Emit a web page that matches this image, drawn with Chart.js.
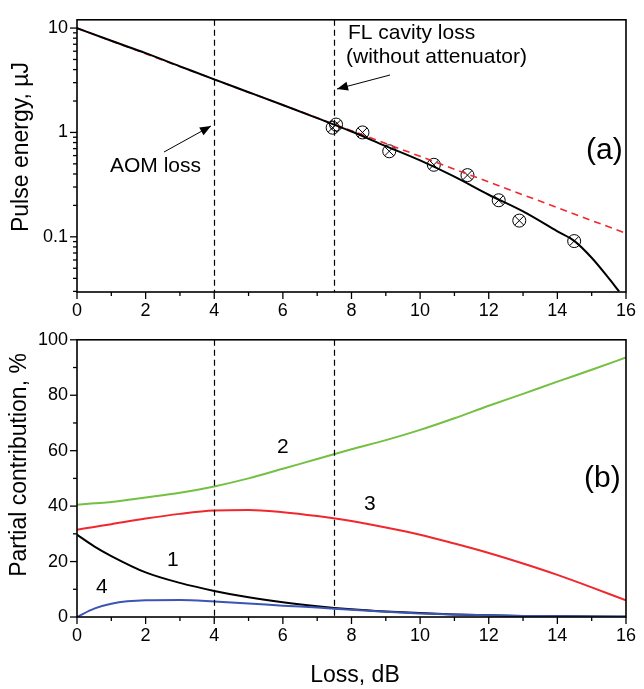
<!DOCTYPE html>
<html>
<head>
<meta charset="utf-8">
<script src="https://cdn.jsdelivr.net/npm/chart.js@4.4.1/dist/chart.umd.min.js"></script>
<style>
  body { margin: 0; background: #fff; }
  #wrap { position: relative; width: 644px; height: 689px; }
  canvas { position: absolute; left: 0; }
</style>
</head>
<body>
<div id="wrap">
  <canvas id="topChart" width="644" height="320" style="top:0"></canvas>
  <canvas id="bottomChart" width="644" height="369" style="top:320px"></canvas>
</div>
<script>
// panel (a): pulse energy vs loss
const fitLoss = [0, 1, 2, 3, 4, 5, 6, 7, 8, 9, 10, 11, 12, 13, 14, 14.5, 15, 15.5, 15.8];
const fitEnergy = [10, 7.55, 5.75, 4.3, 3.22, 2.43, 1.83, 1.37, 1.02, 0.74, 0.54, 0.377, 0.253, 0.175, 0.113, 0.091, 0.063, 0.040, 0.03];
const lineLoss = [0, 4, 8, 12, 16];
const lineEnergy = [10, 3.22, 1.04, 0.335, 0.108];
const measLoss = [7.45, 7.55, 8.32, 9.1, 10.4, 11.38, 12.29, 12.89, 14.49];
const measEnergy = [1.11, 1.19, 1.0, 0.66, 0.49, 0.39, 0.224, 0.143, 0.091];

// panel (b): partial contributions, %
const partLoss = [0, 0.5, 1, 2, 3, 4, 5, 6, 7, 8, 9, 10, 11, 12, 13, 14, 15, 16];
const part1 = [29.7, 25.5, 22, 16.1, 12.3, 9.4, 7.1, 5.3, 3.9, 2.8, 2.0, 1.4, 0.9, 0.6, 0.4, 0.25, 0.15, 0.1];
const part2 = [40.5, 41, 41.5, 43.1, 44.8, 47.1, 50, 53.5, 57, 60.5, 63.8, 67.5, 71.7, 76.2, 80.5, 84.9, 89.2, 93.6];
const part3 = [31.5, 32.5, 33.5, 35.5, 37.2, 38.4, 38.6, 37.8, 36.4, 34.6, 32.3, 29.7, 26.5, 23.1, 19.3, 15.2, 10.7, 6];
const part4 = [0, 3, 4.8, 6, 6.1, 5.6, 4.9, 4.1, 3.4, 2.6, 1.9, 1.3, 0.9, 0.6, 0.4, 0.3, 0.2, 0.2];

// axis ticks
const xMajor = [0, 2, 4, 6, 8, 10, 12, 14, 16];
const xMinor = [1, 3, 5, 7, 9, 11, 13, 15];
const logMajor = [0.1, 1, 10];
const logMinor = [0.03, 0.04, 0.05, 0.06, 0.07, 0.08, 0.09, 0.2, 0.3, 0.4, 0.5, 0.6, 0.7, 0.8, 0.9, 2, 3, 4, 5, 6, 7, 8, 9];
const pctMajor = [0, 20, 40, 60, 80, 100];
const pctMinor = [10, 30, 50, 70, 90];
const markerLines = [4, 7.5];

const FONT = "'Liberation Sans', Arial, sans-serif";
const pts = (xs, ys) => xs.map((x, i) => ({ x: x, y: ys[i] }));

const deco = {
  id: "deco",
  afterDatasetsDraw(chart, args, o) {
    const ctx = chart.ctx;
    const a = chart.chartArea;
    const x = chart.scales.x, y = chart.scales.y;
    ctx.save();
    ctx.strokeStyle = "#000";
    ctx.fillStyle = "#000";

    // dashed verticals
    ctx.lineWidth = 1.2;
    ctx.setLineDash([6, 4]);
    markerLines.forEach((v) => {
      const px = Math.round(x.getPixelForValue(v)) + 0.5;
      ctx.beginPath();
      ctx.moveTo(px, a.top);
      ctx.lineTo(px, a.bottom);
      ctx.stroke();
    });
    ctx.setLineDash([]);

    // frame
    ctx.lineWidth = 1.6;
    ctx.strokeRect(a.left, a.top, a.right - a.left, a.bottom - a.top);

    // ticks, outward
    ctx.lineWidth = 1.3;
    const tx = (v, len) => {
      const px = x.getPixelForValue(v);
      ctx.beginPath(); ctx.moveTo(px, a.bottom); ctx.lineTo(px, a.bottom + len); ctx.stroke();
    };
    const ty = (v, len) => {
      const py = y.getPixelForValue(v);
      ctx.beginPath(); ctx.moveTo(a.left, py); ctx.lineTo(a.left - len, py); ctx.stroke();
    };
    xMajor.forEach((v) => tx(v, 7));
    xMinor.forEach((v) => tx(v, 4));
    o.yMajor.forEach((v) => ty(v, 7));
    o.yMinor.forEach((v) => ty(v, 4));

    // arrows
    (o.arrows || []).forEach((ar) => {
      const [x1, y1, x2, y2] = ar;
      ctx.lineWidth = 1;
      ctx.beginPath(); ctx.moveTo(x1, y1); ctx.lineTo(x2, y2); ctx.stroke();
      const ang = Math.atan2(y2 - y1, x2 - x1);
      const L = 11, W = 4.5;
      ctx.beginPath();
      ctx.moveTo(x2, y2);
      ctx.lineTo(x2 - L * Math.cos(ang) + W * Math.sin(ang), y2 - L * Math.sin(ang) - W * Math.cos(ang));
      ctx.lineTo(x2 - L * Math.cos(ang) - W * Math.sin(ang), y2 - L * Math.sin(ang) + W * Math.cos(ang));
      ctx.closePath();
      ctx.fill();
    });

    // texts
    ctx.textBaseline = "alphabetic";
    (o.texts || []).forEach((t) => {
      ctx.font = t.size + "px " + FONT;
      ctx.textAlign = t.align || "left";
      if (t.rot) {
        ctx.save();
        ctx.translate(t.x, t.y);
        ctx.rotate(-Math.PI / 2);
        ctx.fillText(t.text, 0, 0);
        ctx.restore();
      } else {
        ctx.fillText(t.text, t.x, t.y);
      }
    });
    ctx.restore();
  }
};

const tickFont = { family: FONT, size: 18 };

function xScale(h) {
  return {
    type: "linear", min: 0, max: 16,
    afterBuildTicks: (s) => { s.ticks = xMajor.map((v) => ({ value: v })); },
    ticks: { padding: 8, font: tickFont, color: "#000", maxRotation: 0 },
    grid: { display: false, drawTicks: false },
    border: { display: false },
    afterFit: (s) => { s.height = h; }
  };
}

new Chart(document.getElementById("topChart"), {
  type: "line",
  data: {
    datasets: [
      { data: pts(fitLoss, fitEnergy), borderColor: "#000", borderWidth: 2, pointRadius: 0, cubicInterpolationMode: "monotone" },
      { data: pts(lineLoss, lineEnergy), borderColor: "#f0282d", borderWidth: 1.6, borderDash: [7, 5], pointRadius: 0 },
      { data: pts(measLoss, measEnergy), showLine: false, pointStyle: "circle", pointRadius: 6.5, borderColor: "#000", borderWidth: 1, backgroundColor: "rgba(0,0,0,0)" },
      { data: pts(measLoss, measEnergy), showLine: false, pointStyle: "crossRot", pointRadius: 6.5, borderColor: "#000", borderWidth: 1 }
    ]
  },
  options: {
    responsive: false,
    animation: false,
    layout: { padding: { top: 4, right: 10, left: 0, bottom: 0 } },
    plugins: {
      legend: { display: false },
      tooltip: { enabled: false },
      deco: {
        yMajor: logMajor,
        yMinor: logMinor,
        arrows: [[164, 152, 211, 126], [390, 75, 337, 89]],
        texts: [
          { text: "AOM loss", x: 110, y: 172, size: 21 },
          { text: "FL cavity loss", x: 348, y: 39, size: 21 },
          { text: "(without attenuator)", x: 346, y: 63, size: 21 },
          { text: "(a)", x: 586, y: 159, size: 30 },
          { text: "Pulse energy, \u00b5J", x: 28, y: 147, size: 23, align: "center", rot: true }
        ]
      }
    },
    scales: {
      x: xScale(28),
      y: {
        type: "logarithmic", min: 0.0296, max: 12,
        afterBuildTicks: (s) => { s.ticks = logMajor.map((v) => ({ value: v })); },
        ticks: { padding: 9, font: tickFont, color: "#000", callback: (v) => String(v) },
        grid: { display: false, drawTicks: false },
        border: { display: false },
        afterFit: (s) => { s.width = 77; }
      }
    }
  },
  plugins: [deco]
});

new Chart(document.getElementById("bottomChart"), {
  type: "line",
  data: {
    datasets: [
      { data: pts(partLoss, part4), borderColor: "#3a55b4", borderWidth: 2, pointRadius: 0, cubicInterpolationMode: "monotone" },
      { data: pts(partLoss, part1), borderColor: "#000", borderWidth: 2, pointRadius: 0, cubicInterpolationMode: "monotone" },
      { data: pts(partLoss, part3), borderColor: "#f0282d", borderWidth: 2, pointRadius: 0, cubicInterpolationMode: "monotone" },
      { data: pts(partLoss, part2), borderColor: "#74c043", borderWidth: 2, pointRadius: 0, cubicInterpolationMode: "monotone" }
    ]
  },
  options: {
    responsive: false,
    animation: false,
    layout: { padding: { top: 10, right: 10, left: 0, bottom: 0 } },
    plugins: {
      legend: { display: false },
      tooltip: { enabled: false },
      deco: {
        yMajor: pctMajor,
        yMinor: pctMinor,
        texts: [
          { text: "2", x: 277, y: 133, size: 21 },
          { text: "3", x: 364, y: 190, size: 21 },
          { text: "1", x: 167, y: 246, size: 21 },
          { text: "4", x: 96, y: 273, size: 21 },
          { text: "(b)", x: 584, y: 167, size: 30 },
          { text: "Loss, dB", x: 355, y: 362, size: 23, align: "center" },
          { text: "Partial contribution, %", x: 26, y: 145, size: 23, align: "center", rot: true }
        ]
      }
    },
    scales: {
      x: xScale(72),
      y: {
        type: "linear", min: 0, max: 100,
        afterBuildTicks: (s) => { s.ticks = pctMajor.map((v) => ({ value: v })); },
        ticks: { padding: 9, font: tickFont, color: "#000" },
        grid: { display: false, drawTicks: false },
        border: { display: false },
        afterFit: (s) => { s.width = 77; }
      }
    }
  },
  plugins: [deco]
});
</script>
</body>
</html>
